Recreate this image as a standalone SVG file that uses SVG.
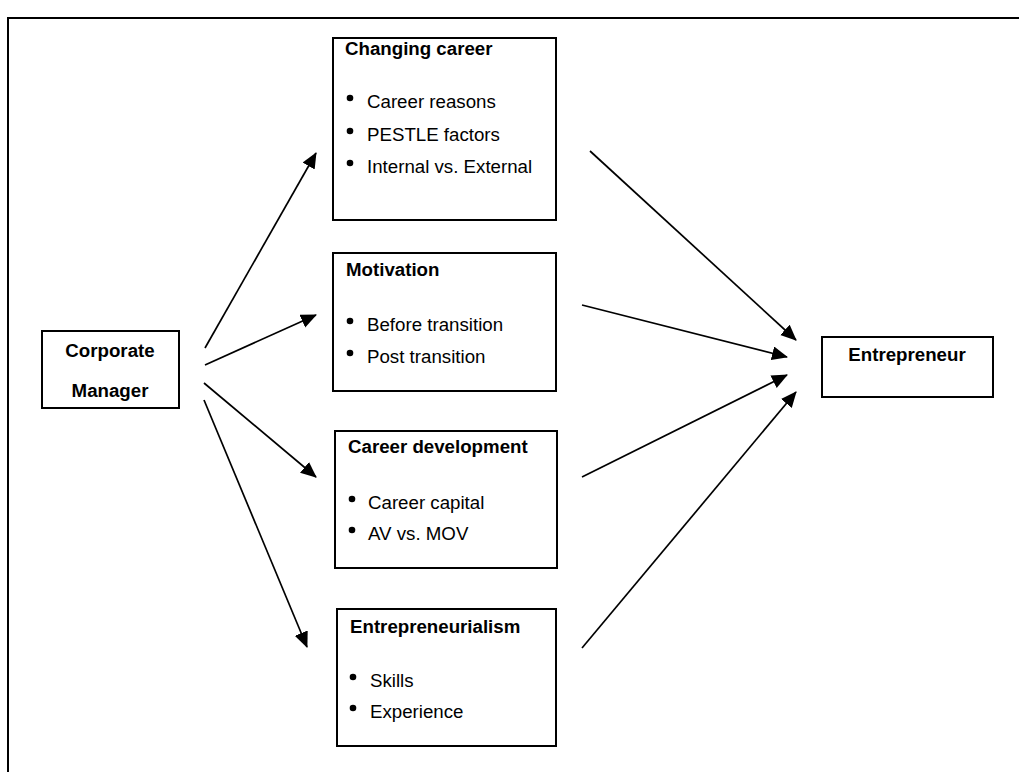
<svg xmlns="http://www.w3.org/2000/svg" width="1019" height="772" viewBox="0 0 1019 772">
  <style>
    .box { fill: #ffffff; stroke: #000000; stroke-width: 2; }
    .title { font-family: "Liberation Sans", Arial, sans-serif; font-size: 18.7px; font-weight: bold; fill: #000000; }
    .item { font-family: "Liberation Sans", Arial, sans-serif; font-size: 18.7px; fill: #000000; }
    .center { text-anchor: middle; }
    .dot { fill: #000000; }
    .edge { stroke: #000000; stroke-width: 1.7; fill: none; marker-end: url(#arrow); }
  </style>
  <defs>
    <marker id="arrow" markerUnits="userSpaceOnUse" markerWidth="18" markerHeight="15" refX="15" refY="7" orient="auto">
      <path d="M0,0 L16,7 L0,14 Z" fill="#000000"/>
    </marker>
  </defs>

  <rect width="1019" height="772" fill="#ffffff"/>

  <!-- page frame -->
  <path d="M8,772 L8,18 L1019,18" fill="none" stroke="#000000" stroke-width="2"/>

  <g id="corporate-manager">
    <rect class="box" x="42" y="331" width="137" height="77"/>
    <text class="title center" x="110" y="357">Corporate</text>
    <text class="title center" x="110" y="397">Manager</text>
  </g>

  <g id="changing-career">
    <rect class="box" x="333" y="38" width="223" height="182"/>
    <text class="title" x="345" y="55">Changing career</text>
    <circle class="dot" cx="350" cy="98" r="3.3"/>
    <text class="item" x="367" y="108">Career reasons</text>
    <circle class="dot" cx="350" cy="131" r="3.3"/>
    <text class="item" x="367" y="141">PESTLE factors</text>
    <circle class="dot" cx="350" cy="163" r="3.3"/>
    <text class="item" x="367" y="173">Internal vs. External</text>
  </g>

  <g id="motivation">
    <rect class="box" x="333" y="253" width="223" height="138"/>
    <text class="title" x="346" y="276">Motivation</text>
    <circle class="dot" cx="350" cy="321" r="3.3"/>
    <text class="item" x="367" y="331">Before transition</text>
    <circle class="dot" cx="350" cy="353" r="3.3"/>
    <text class="item" x="367" y="363">Post transition</text>
  </g>

  <g id="career-development">
    <rect class="box" x="335" y="431" width="222" height="137"/>
    <text class="title" x="348" y="453">Career development</text>
    <circle class="dot" cx="352" cy="499" r="3.3"/>
    <text class="item" x="368" y="509">Career capital</text>
    <circle class="dot" cx="352" cy="530" r="3.3"/>
    <text class="item" x="368" y="540">AV vs. MOV</text>
  </g>

  <g id="entrepreneurialism">
    <rect class="box" x="337" y="609" width="219" height="137"/>
    <text class="title" x="350" y="633">Entrepreneurialism</text>
    <circle class="dot" cx="353" cy="677" r="3.3"/>
    <text class="item" x="370" y="687">Skills</text>
    <circle class="dot" cx="353" cy="708" r="3.3"/>
    <text class="item" x="370" y="718">Experience</text>
  </g>

  <g id="entrepreneur">
    <rect class="box" x="822" y="337" width="171" height="60"/>
    <text class="title center" x="907" y="361">Entrepreneur</text>
  </g>

  <g id="connectors">
    <line class="edge" x1="205" y1="348" x2="316" y2="153"/>
    <line class="edge" x1="205" y1="365" x2="316" y2="315"/>
    <line class="edge" x1="204" y1="383" x2="316" y2="477"/>
    <line class="edge" x1="204" y1="400" x2="307" y2="647"/>
    <line class="edge" x1="590" y1="151" x2="796" y2="340"/>
    <line class="edge" x1="582" y1="305" x2="787" y2="357"/>
    <line class="edge" x1="582" y1="477" x2="787" y2="375"/>
    <line class="edge" x1="582" y1="648" x2="796" y2="392"/>
  </g>
</svg>
